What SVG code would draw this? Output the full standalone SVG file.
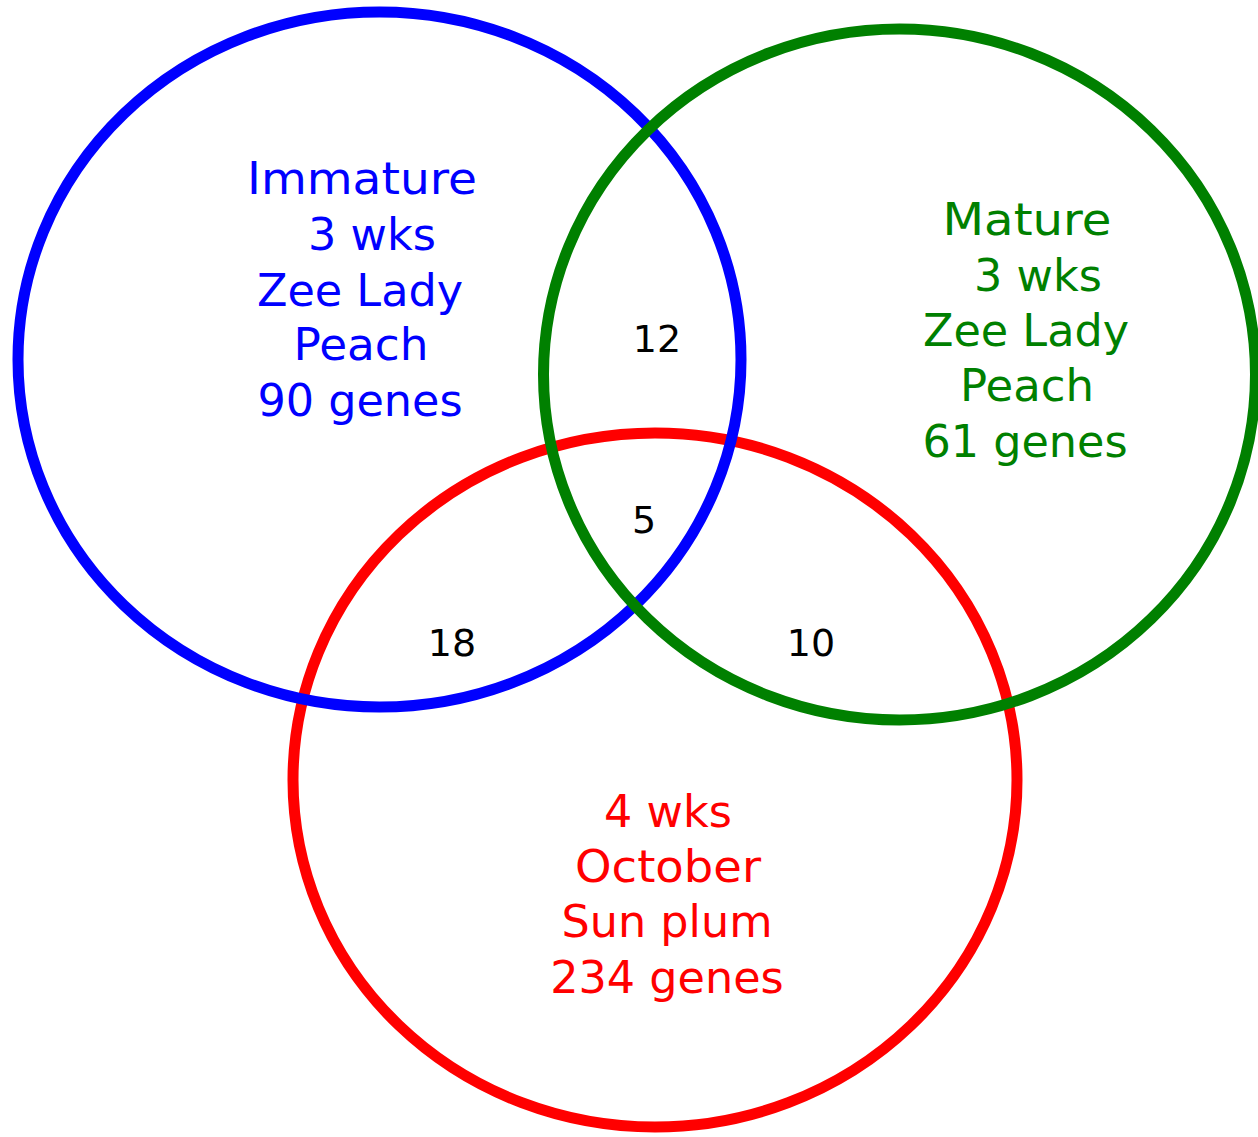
<svg xmlns="http://www.w3.org/2000/svg" width="1258" height="1137" viewBox="0 0 1258 1137">
<style>
.ring{fill:none;stroke-width:11}
.lbl{font-family:"DejaVu Sans",Verdana,sans-serif;font-size:44.5px;text-anchor:middle}
.num{font-family:"DejaVu Sans",Verdana,sans-serif;font-size:38px;text-anchor:middle;fill:#000}
</style>
<rect width="1258" height="1137" fill="#fff"/>
<g id="sets">
<g id="set-sunplum">
<ellipse class="ring" cx="655" cy="780" rx="362" ry="347" stroke="#FF0000"/>
<text class="lbl" fill="#FF0000"><tspan x="668" y="827">4 wks</tspan><tspan x="668" y="882" textLength="186" lengthAdjust="spacingAndGlyphs">October</tspan><tspan x="667" y="937">Sun plum</tspan><tspan x="667" y="993">234 genes</tspan></text>
</g>
<g id="set-immature">
<ellipse class="ring" cx="379.5" cy="359.5" rx="361.5" ry="347.5" stroke="#0000FF"/>
<text class="lbl" fill="#0000FF"><tspan x="362" y="194" textLength="230" lengthAdjust="spacingAndGlyphs">Immature</tspan><tspan x="372" y="250">3 wks</tspan><tspan x="360" y="306">Zee Lady</tspan><tspan x="361" y="360" textLength="135" lengthAdjust="spacingAndGlyphs">Peach</tspan><tspan x="360" y="416">90 genes</tspan></text>
</g>
<g id="set-mature">
<ellipse class="ring" cx="899.5" cy="374.5" rx="356" ry="345.5" stroke="#008000"/>
<text class="lbl" fill="#008000"><tspan x="1027" y="235" textLength="169" lengthAdjust="spacingAndGlyphs">Mature</tspan><tspan x="1038" y="291">3 wks</tspan><tspan x="1026" y="346">Zee Lady</tspan><tspan x="1027" y="401" textLength="134" lengthAdjust="spacingAndGlyphs">Peach</tspan><tspan x="1025" y="457">61 genes</tspan></text>
</g>
</g>
<g id="overlaps">
<text class="num" x="657" y="352">12</text>
<text class="num" x="644" y="533">5</text>
<text class="num" x="452" y="656">18</text>
<text class="num" x="811" y="656">10</text>
</g>
</svg>
